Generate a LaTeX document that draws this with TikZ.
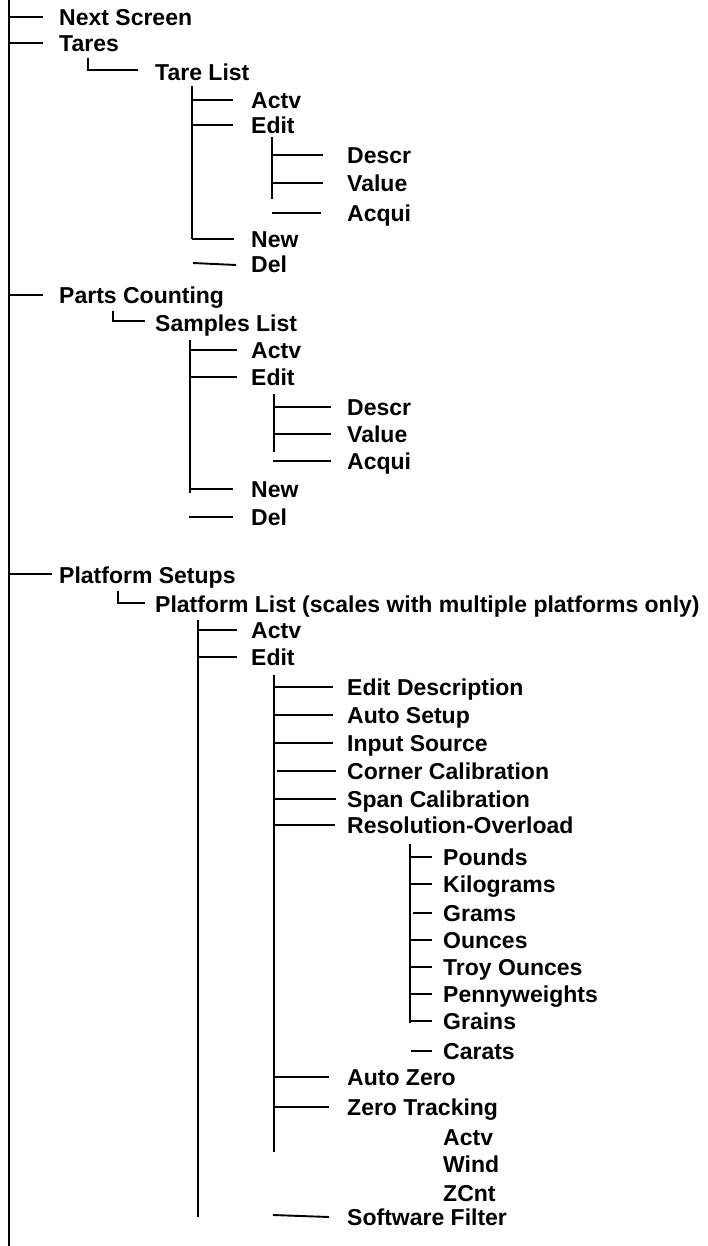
\documentclass[tikz,border=0pt]{standalone}
\usepackage{fontspec}
\setmainfont{Liberation Sans}
\begin{document}
\begin{tikzpicture}[x=1pt,y=-1pt,
  lbl/.style={anchor=base west,inner sep=0pt,yshift=-8.3pt,font=\fontsize{23}{26}\selectfont\bfseries},
  ln/.style={line width=1.9pt,black}]
\useasboundingbox (0,0) rectangle (708,1246);
% ---- labels ----
\node[lbl] (ns) at (59,17) {Next Screen};
\node[lbl] (ta) at (59,43) {Tares};
\node[lbl] (tl) at (155,72) {Tare List};
\node[lbl] (tA) at (251,100) {Actv};
\node[lbl] (tE) at (251,125) {Edit};
\node[lbl] (tD) at (347,155) {Descr};
\node[lbl] (tV) at (347,183) {Value};
\node[lbl] (tQ) at (347,213) {Acqui};
\node[lbl] (tN) at (251,239) {New};
\node[lbl] (tX) at (251,264) {Del};
\node[lbl] (pc) at (59,295) {Parts Counting};
\node[lbl] (sl) at (155,323) {Samples List};
\node[lbl] (sA) at (251,350) {Actv};
\node[lbl] (sE) at (251,377) {Edit};
\node[lbl] (sD) at (347,407) {Descr};
\node[lbl] (sV) at (347,434) {Value};
\node[lbl] (sQ) at (347,461) {Acqui};
\node[lbl] (sN) at (251,489) {New};
\node[lbl] (sX) at (251,517) {Del};
\node[lbl] (ps) at (59,575) {Platform Setups};
\node[lbl] (pl) at (155,604) {Platform List (scales with multiple platforms only)};
\node[lbl] (pA) at (251,630) {Actv};
\node[lbl] (pE) at (251,657) {Edit};
\node[lbl] (e1) at (347,687) {Edit Description};
\node[lbl] (e2) at (347,715) {Auto Setup};
\node[lbl] (e3) at (347,743) {Input Source};
\node[lbl] (e4) at (347,771) {Corner Calibration};
\node[lbl] (e5) at (347,799) {Span Calibration};
\node[lbl] (e6) at (347,825) {Resolution-Overload};
\node[lbl] (r1) at (443,857) {Pounds};
\node[lbl] (r2) at (443,884) {Kilograms};
\node[lbl] (r3) at (443,913) {Grams};
\node[lbl] (r4) at (443,940) {Ounces};
\node[lbl] (r5) at (443,967) {Troy Ounces};
\node[lbl] (r6) at (443,994) {Pennyweights};
\node[lbl] (r7) at (443,1021) {Grains};
\node[lbl] (r8) at (443,1051) {Carats};
\node[lbl] (e7) at (347,1077) {Auto Zero};
\node[lbl] (e8) at (347,1107) {Zero Tracking};
\node[lbl] (z1) at (443,1137) {Actv};
\node[lbl] (z2) at (443,1164) {Wind};
\node[lbl] (z3) at (443,1193) {ZCnt};
\node[lbl] (e9) at (347,1217) {Software Filter};
% ---- main trunk ----
\draw[ln] (9,0) -- (9,1246);
\draw[ln] (9,17) -- (43,17);
\draw[ln] (9,43) -- (43,43);
\draw[ln] (9,295) -- (43,295);
\draw[ln] (9,574) -- (52,574);
% ---- Tares ----
\draw[ln] (88,58) -- (88,70) -- (138,70);
\draw[ln] (192,86) -- (192,239);
\draw[ln] (192,100) -- (233,100);
\draw[ln] (192,125) -- (233,125);
\draw[ln] (192,239) -- (234,239);
\draw[ln] (193,263) -- (236,265);
\draw[ln] (272,137) -- (272,199);
\draw[ln] (272,155) -- (323,155);
\draw[ln] (272,183) -- (323,183);
\draw[ln] (272,213) -- (321,213);
% ---- Parts Counting ----
\draw[ln] (113,311) -- (113,321) -- (145,321);
\draw[ln] (190,340) -- (190,493);
\draw[ln] (190,350) -- (237,350);
\draw[ln] (190,377) -- (237,377);
\draw[ln] (190,489) -- (233,489);
\draw[ln] (189,517) -- (233,517);
\draw[ln] (274,394) -- (274,452);
\draw[ln] (274,407) -- (331,407);
\draw[ln] (274,434) -- (331,434);
\draw[ln] (273,461) -- (331,461);
% ---- Platform Setups ----
\draw[ln] (118,591) -- (118,603) -- (145,603);
\draw[ln] (198,620) -- (198,1217);
\draw[ln] (198,630) -- (237,630);
\draw[ln] (198,657) -- (237,657);
\draw[ln] (274,675) -- (274,1152);
\draw[ln] (274,687) -- (333,687);
\draw[ln] (274,715) -- (333,715);
\draw[ln] (274,743) -- (333,743);
\draw[ln] (277,771) -- (336,771);
\draw[ln] (274,799) -- (336,799);
\draw[ln] (274,825) -- (335,825);
\draw[ln] (410,844) -- (410,1023);
\draw[ln] (410,857) -- (432,857);
\draw[ln] (410,884) -- (432,884);
\draw[ln] (413,913) -- (432,913);
\draw[ln] (410,940) -- (432,940);
\draw[ln] (410,967) -- (432,967);
\draw[ln] (410,994) -- (432,994);
\draw[ln] (410,1021) -- (432,1021);
\draw[ln] (411,1051) -- (432,1051);
\draw[ln] (274,1077) -- (329,1077);
\draw[ln] (274,1107) -- (329,1107);
\draw[ln] (273,1215) -- (329,1217);
\end{tikzpicture}
\end{document}
